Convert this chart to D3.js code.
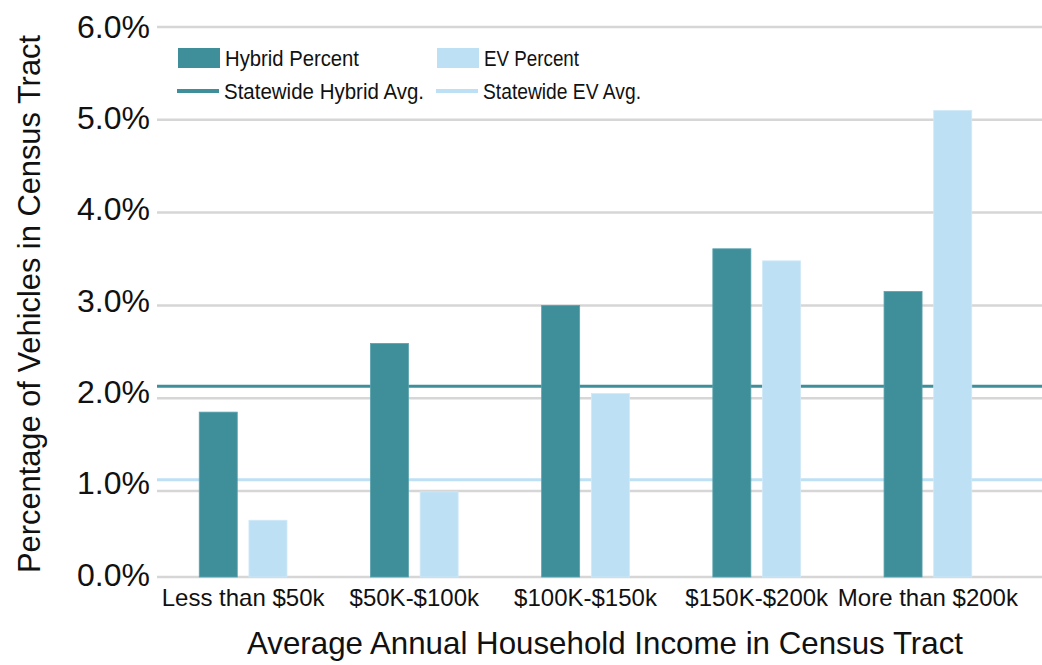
<!DOCTYPE html>
<html>
<head>
<meta charset="utf-8">
<script src="https://cdn.jsdelivr.net/npm/d3@7"></script>
<style>
  body { margin: 0; background: #fff; }
  svg { display: block; font-family: "Liberation Sans", Arial, sans-serif; fill: #111; }
</style>
</head>
<body>
<script>
var categories = ["Less than $50k", "$50K-$100k", "$100K-$150k", "$150K-$200k", "More than $200k"];
var hybridPct = [1.85, 2.59, 3.00, 3.61, 3.15];
var evPct = [0.66, 0.99, 2.05, 3.48, 5.10];
var hybridAvg = 2.13;
var evAvg = 1.12;
var yTicks = [0, 1, 2, 3, 4, 5, 6];

var w = 1042, h = 665;
var hybridColour = "#3f8f9b", evColour = "#bde0f4";

var svg = d3.select("body").append("svg")
  .attr("width", w)
  .attr("height", h);

var data = categories.map(function(c, i) {
  return { cat: c, hybrid: hybridPct[i], ev: evPct[i] };
});

var x0 = d3.scaleBand()
  .domain(categories)
  .range([157.5, 1013.5]);

var x1 = d3.scaleBand()
  .domain(["hybrid", "ev"])
  .range([0, x0.bandwidth()])
  .paddingInner(0.235)
  .paddingOuter(0.84);

// the source grid is a bit squashed between 0 and 1%
var y = d3.scaleLinear()
  .domain([0, 1, 6])
  .range([577, 491, 27]);

// tick labels in the source sit on an even spacing of their own
var yLabel = d3.scaleLinear()
  .domain([0, 6])
  .range([575, 27]);

// gridlines
svg.append("g")
  .selectAll("line")
  .data(yTicks)
  .enter().append("line")
  .attr("x1", 157)
  .attr("x2", w)
  .attr("y1", function(d) { return y(d); })
  .attr("y2", function(d) { return y(d); })
  .attr("stroke", "#d6d6d6")
  .attr("stroke-width", 2.5);

var yAxis = d3.axisLeft(yLabel)
  .tickValues(yTicks)
  .tickSize(0)
  .tickPadding(0)
  .tickFormat(function(d) { return d3.format(".1f")(d) + "%"; });

svg.append("g")
  .attr("transform", "translate(150,0)")
  .call(yAxis)
  .call(function(g) { g.select(".domain").remove(); })
  .selectAll("text")
  .attr("font-size", 32)
  .attr("font-family", "Liberation Sans, Arial, sans-serif")
  .attr("fill", "#111");

// statewide averages
svg.append("line")
  .attr("x1", 157).attr("x2", w)
  .attr("y1", y(hybridAvg)).attr("y2", y(hybridAvg))
  .attr("stroke", hybridColour)
  .attr("stroke-width", 3);

svg.append("line")
  .attr("x1", 157).attr("x2", w)
  .attr("y1", y(evAvg)).attr("y2", y(evAvg))
  .attr("stroke", evColour)
  .attr("stroke-width", 3);

// bars
var groups = svg.selectAll("g.grp")
  .data(data)
  .enter().append("g")
  .attr("class", "grp")
  .attr("transform", function(d) { return "translate(" + x0(d.cat) + ",0)"; });

groups.selectAll("rect")
  .data(function(d) {
    return [{ key: "hybrid", v: d.hybrid }, { key: "ev", v: d.ev }];
  })
  .enter().append("rect")
  .attr("x", function(d) { return x1(d.key); })
  .attr("width", x1.bandwidth())
  .attr("y", function(d) { return y(d.v); })
  .attr("height", function(d) { return y(0) - y(d.v); })
  .attr("fill", function(d) { return d.key == "hybrid" ? hybridColour : evColour; })
  .attr("stroke", function(d) { return d.key == "hybrid" ? "#5aa2ad" : "#d0e9f8"; })
  .attr("stroke-width", 0.8);

// category labels
var xAxis = d3.axisBottom(x0)
  .tickSize(0)
  .tickPadding(0);

svg.append("g")
  .attr("transform", "translate(0,589)")
  .call(xAxis)
  .call(function(g) { g.select(".domain").remove(); })
  .selectAll("text")
  .attr("font-size", 24)
  .attr("font-family", "Liberation Sans, Arial, sans-serif")
  .attr("fill", "#111");

// axis titles
svg.append("text")
  .attr("x", 605)
  .attr("y", 654)
  .attr("text-anchor", "middle")
  .attr("font-size", 32)
  .attr("textLength", 716)
  .attr("lengthAdjust", "spacingAndGlyphs")
  .text("Average Annual Household Income in Census Tract");

svg.append("text")
  .attr("transform", "translate(40,304) rotate(-90)")
  .attr("text-anchor", "middle")
  .attr("font-size", 32)
  .attr("textLength", 538)
  .attr("lengthAdjust", "spacingAndGlyphs")
  .text("Percentage of Vehicles in Census Tract");

// legend
var legendItems = [
  { label: "Hybrid Percent", colour: hybridColour, type: "rect", x: 178, y: 58, len: 134 },
  { label: "EV Percent", colour: evColour, type: "rect", x: 437, y: 58, len: 95 },
  { label: "Statewide Hybrid Avg.", colour: hybridColour, type: "line", x: 177, y: 91, len: 200 },
  { label: "Statewide EV Avg.", colour: evColour, type: "line", x: 436, y: 91, len: 158 }
];

var legend = svg.selectAll("g.legend")
  .data(legendItems)
  .enter().append("g")
  .attr("class", "legend")
  .attr("transform", function(d) { return "translate(" + d.x + "," + d.y + ")"; });

legend.filter(function(d) { return d.type == "rect"; })
  .append("rect")
  .attr("x", 0).attr("y", -10)
  .attr("width", 42).attr("height", 20)
  .attr("fill", function(d) { return d.colour; });

legend.filter(function(d) { return d.type == "line"; })
  .append("line")
  .attr("x1", 0).attr("x2", 42)
  .attr("stroke", function(d) { return d.colour; })
  .attr("stroke-width", 4);

legend.append("text")
  .attr("x", 47)
  .attr("dy", "0.35em")
  .attr("font-size", 22)
  .attr("textLength", function(d) { return d.len; })
  .attr("lengthAdjust", "spacingAndGlyphs")
  .text(function(d) { return d.label; });
</script>
</body>
</html>
